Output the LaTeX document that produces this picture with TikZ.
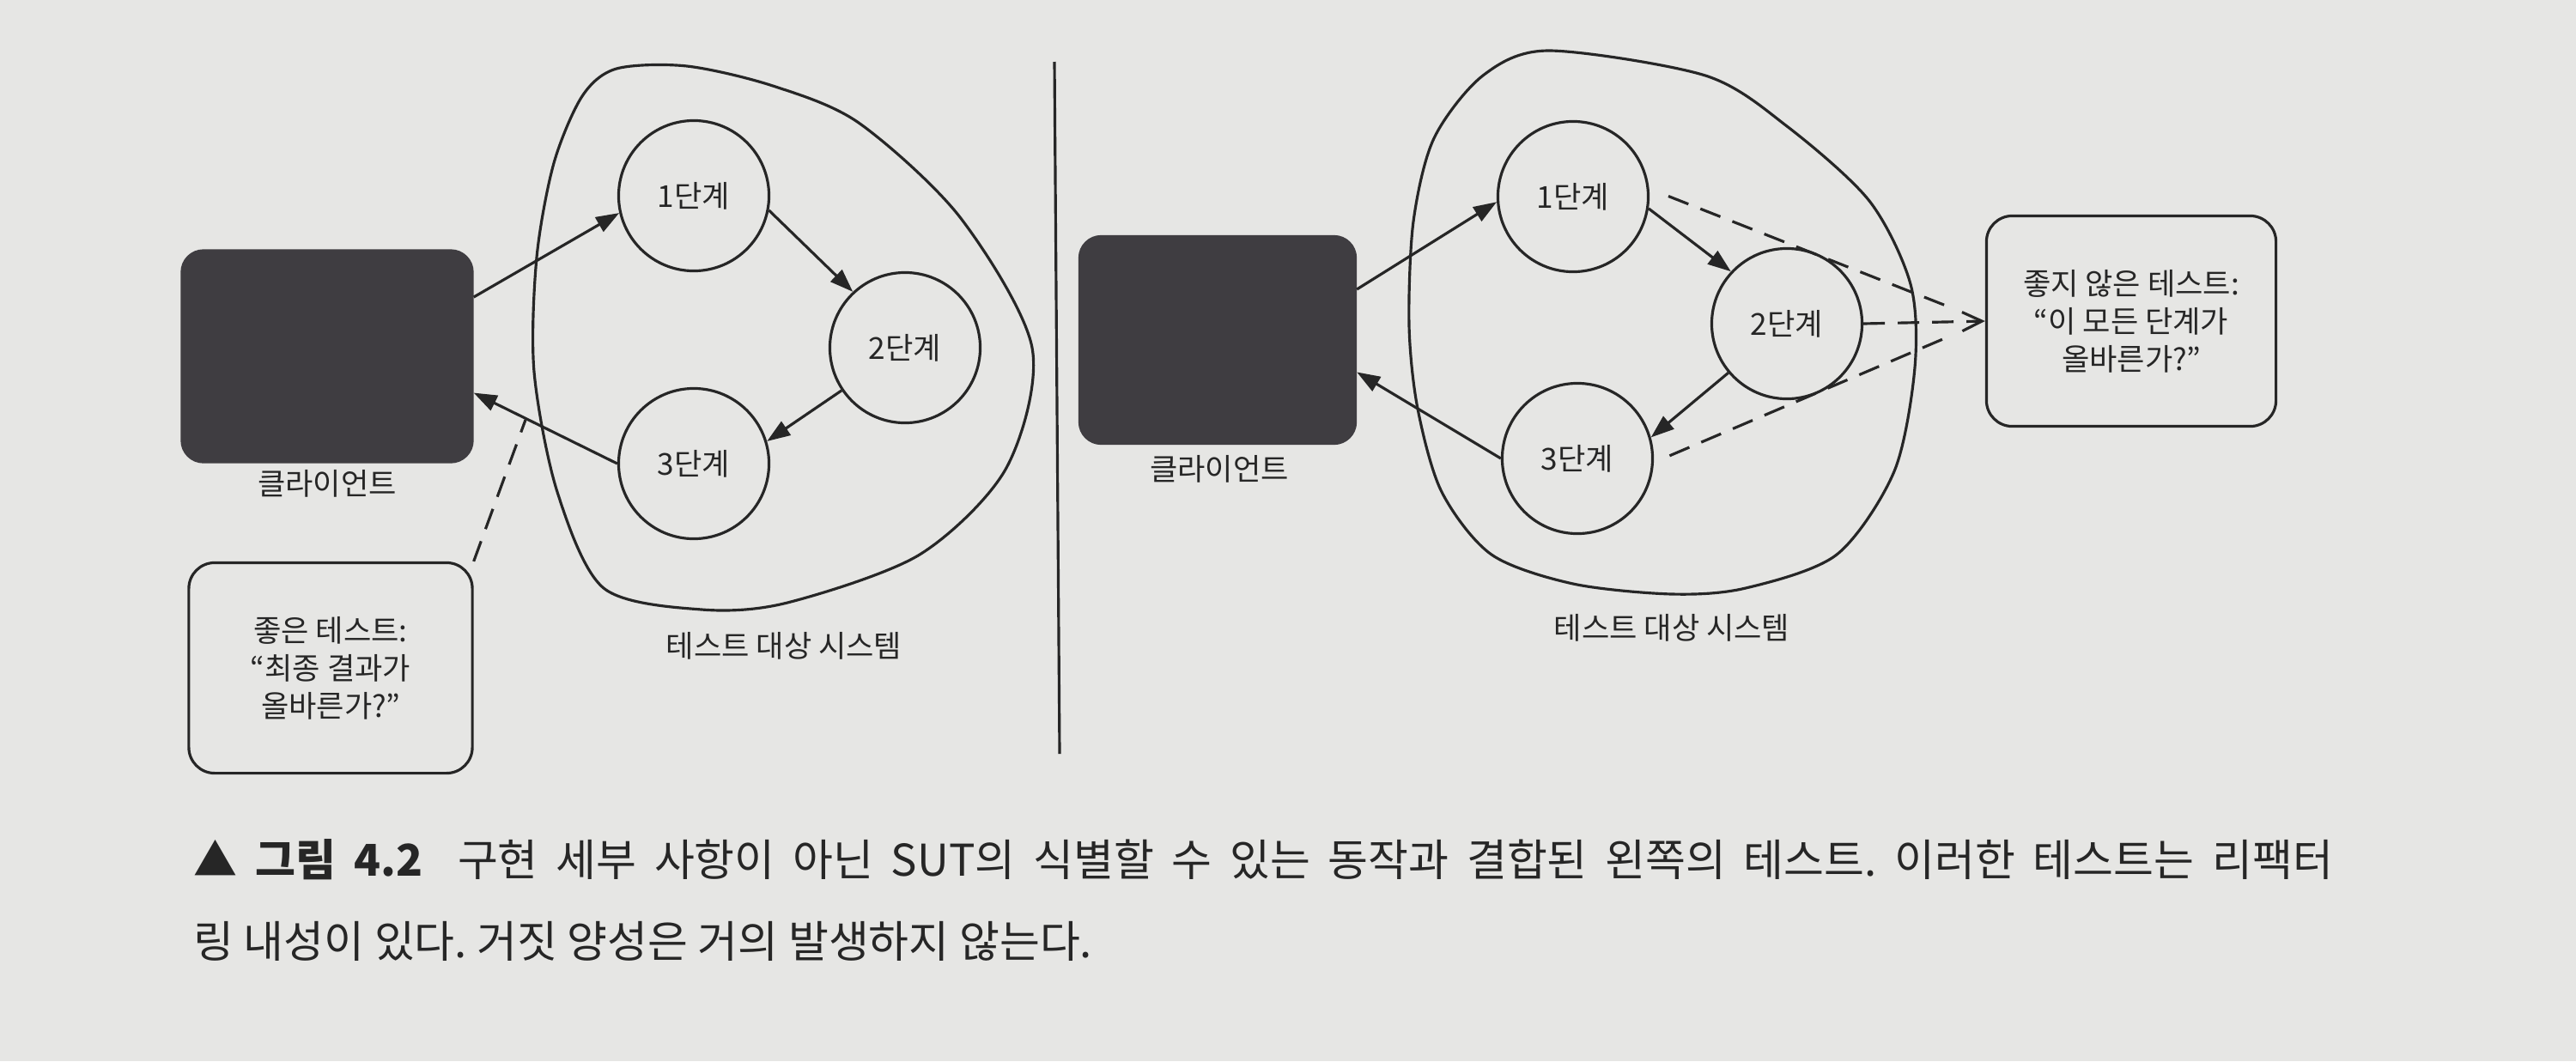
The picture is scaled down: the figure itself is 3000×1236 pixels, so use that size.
\documentclass[tikz,border=0pt]{standalone}
\usepackage{fontspec}
\setmainfont{Noto Sans CJK KR}
\usetikzlibrary{arrows.meta}
\definecolor{paper}{HTML}{E6E6E4}
\definecolor{ink}{HTML}{262626}
\definecolor{boxgray}{HTML}{3F3D41}
\frenchspacing

\begin{document}
\begin{tikzpicture}[x=0.01cm, y=-0.01cm, line width=0.9pt, color=ink,
	font=\fontsize{10}{12.5}\selectfont,
	stage/.style={draw, circle, minimum size=1.75cm, inner sep=0pt},
	client/.style={fill=boxgray, draw=boxgray, rounded corners=0.25cm, minimum width=3.38cm, minimum height=2.46cm},
	note/.style={draw, rounded corners=0.3cm, align=center, minimum width=3.3cm, minimum height=2.45cm},
	arr/.style={-{Triangle[length=2.7mm, width=1.9mm]}},
	dashline/.style={dash pattern=on 2.5mm off 1.5mm}]
	\useasboundingbox (0,0) rectangle (3000,1236);
	\fill[paper] (0,0) rectangle (3000,1236);
	
	% left: good test
	\node[client] (clientL) at (381,415) {};
	\node (clientLabelL) at (381,563) {클라이언트};
	\draw plot[smooth cycle] coordinates {(718,80) (800,77) (900,100) (1000,143) (1118,253) (1202,405) (1172,545) (1071,646) (917,702) (817,710) (703,685) (649,573) (622,433) (625,300) (645,190) (678,112)};
	\node (sutL) at (913,752) {테스트 대상 시스템};
	\node[stage] (st1L) at (808,228) {1단계};
	\node[stage] (st2L) at (1054,405) {2단계};
	\node[stage] (st3L) at (808,540) {3단계};
	\node[note] (goodL) at (385,778) {좋은 테스트:\\“최종 결과가\\올바른가?”};
	\coordinate (gapL) at (612,489);
	\foreach \a/\b in {clientL.22/st1L.193, st1L.-11/st2L.133, st2L.-146/st3L.17, st3L.180/clientL.-14}
		\draw[arr] (\a) -- (\b);
	\draw[dashline] (goodL.north east) -- (gapL);
	
	\coordinate (divTop) at (1228,72);
	\coordinate (divBot) at (1234,878);
	\draw (divTop) -- (divBot);
	
	% right: bad test
	\node[client, minimum width=3.21cm, minimum height=2.41cm] (clientR) at (1418,396) {};
	\node (clientLabelR) at (1420,546) {클라이언트};
	\draw plot[smooth cycle] coordinates {(1804,59) (1986,88) (2081,147) (2177,234) (2225,331) (2230,428) (2206,549) (2139,646) (2033,685) (1947,692) (1832,680) (1737,646) (1679,573) (1651,476) (1641,379) (1646,258) (1670,161) (1727,88)};
	\node (sutR) at (1947,731) {테스트 대상 시스템};
	\node[stage] (st1R) at (1832,229) {1단계};
	\node[stage] (st2R) at (2081,377) {2단계};
	\node[stage] (st3R) at (1837,534) {3단계};
	\node[note, minimum width=3.37cm, minimum height=2.45cm] (badR) at (2482,374) {좋지 않은 테스트:\\“이 모든 단계가\\올바른가?”};
	\foreach \a/\b in {clientR.20/st1R.184, st1R.-9/st2R.137, st2R.-140/st3R.16, st3R.180/clientR.-13}
		\draw[arr] (\a) -- (\b);
	\draw[dashline, shorten <=2.4mm, shorten >=4mm] (st1R.6) -- (badR.west);
	\draw[dashline, shorten <=2mm, shorten >=4mm] (st3R.-3) -- (badR.west);
	\draw[dashline, -{Straight Barb[length=2.3mm, width=2.2mm]}] (st2R.east) -- (badR.west);
	
	% caption
	\node[anchor=base west, inner sep=0pt, font=\fontsize{14.5}{17}\selectfont] (capA) at (224,1020) {\hbox to 24.9cm{▲ \textbf{그림 4.2}\hspace{0.8em}구현 세부 사항이 아닌 SUT의 식별할 수 있는 동작과 결합된 왼쪽의 테스트. 이러한 테스트는 리팩터}};
	\node[anchor=base west, inner sep=0pt, font=\fontsize{14.5}{17}\selectfont] (capB) at (224,1115) {링 내성이 있다. 거짓 양성은 거의 발생하지 않는다.};
\end{tikzpicture}
\end{document}
